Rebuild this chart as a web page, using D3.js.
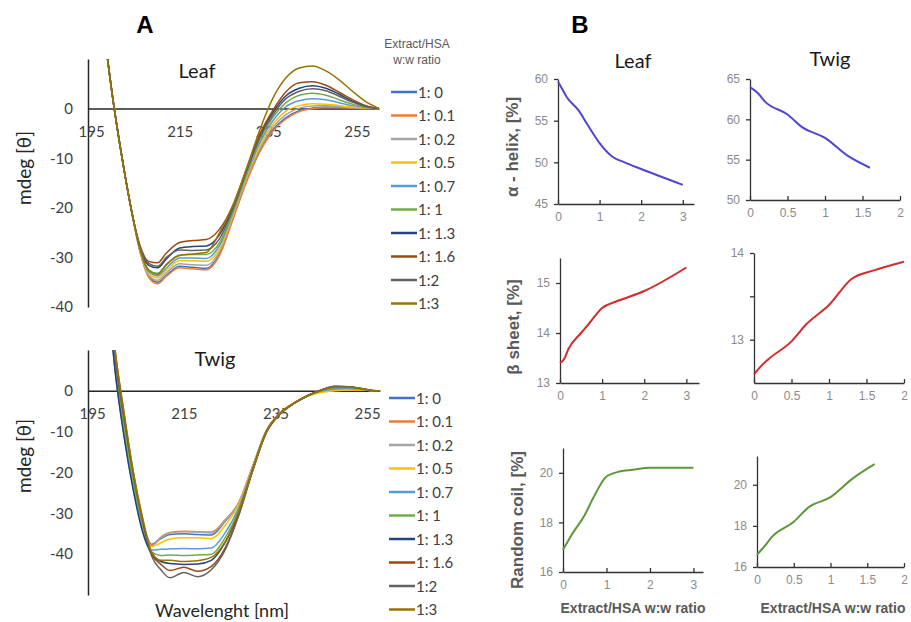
<!DOCTYPE html>
<html>
<head>
<meta charset="utf-8">
<script src="https://cdn.jsdelivr.net/npm/d3@7"></script>
<style>
  body { margin: 0; background: #fff; }
  svg { display: block; background: #fff; }
</style>
</head>
<body>
<svg id="fig" width="911" height="622"></svg>
<script>
// ---------- panel A: CD spectra ----------
var wavelengths = [198, 200, 202, 204, 206, 208, 210, 212, 215, 218, 221, 224, 227, 230, 233, 236, 239, 242, 245, 248, 251, 254, 257, 260];
var ratioLabels = ["1: 0", "1: 0.1", "1: 0.2", "1: 0.5", "1: 0.7", "1: 1", "1: 1.3", "1: 1.6", "1:2", "1:3"];
var ratioColors = ["#4472c4", "#ed7d31", "#a5a5a5", "#ffc000", "#5b9bd5", "#70ad47", "#264478", "#9e480e", "#636363", "#997300"];
var wlTicks = [195, 215, 235, 255];
var mdegTicks = [0, -10, -20, -30, -40];

var leaf_0  = [15, 1.4, -10, -20, -28.6, -33.8, -35, -33.6, -31.8, -32, -32.2, -29.3, -22.2, -14.8, -8.6, -4.3, -1.8, -0.4, 0.1, 0.3, 0.2, 0.1, 0, 0];
var leaf_01 = [15, 1.4, -10, -20, -28.7, -34, -35.3, -33.8, -32.1, -32.3, -32.5, -29.6, -22.4, -15, -8.9, -4.6, -2.1, -0.6, 0, 0.2, 0.2, 0.1, 0, 0];
var leaf_02 = [15, 1.4, -10, -20, -28.5, -33.6, -34.6, -33.1, -31.3, -31.5, -31.6, -28.8, -21.8, -14.4, -8.2, -3.8, -1.2, 0.1, 0.5, 0.6, 0.4, 0.2, 0.1, 0];
var leaf_05 = [15, 1.4, -10, -20, -28.4, -33.2, -34.1, -32.6, -30.6, -30.7, -30.8, -28.2, -21.4, -14, -7.6, -3.2, -0.5, 0.6, 1, 0.9, 0.6, 0.3, 0.1, 0];
var leaf_07 = [15, 1.4, -10, -20, -28.3, -32.9, -33.7, -32.1, -30.1, -30.1, -30.2, -27.6, -21, -13.6, -7, -2.5, 0.4, 1.6, 2, 1.8, 1.2, 0.6, 0.2, 0];
var leaf_1  = [15, 1.4, -10, -20, -28.1, -32.5, -33.2, -31.5, -29.5, -29.4, -29.4, -27, -20.7, -13.2, -6.4, -1.8, 1.2, 2.7, 3.1, 2.7, 1.8, 0.9, 0.3, 0];
var leaf_13 = [15, 1.4, -10, -20, -27.8, -31.6, -32.1, -30.3, -28.1, -27.8, -27.7, -25.4, -20, -12.6, -5.6, -0.8, 2.6, 4.1, 4.6, 4.1, 2.9, 1.5, 0.5, 0];
var leaf_16 = [15, 1.4, -10, -20, -27.5, -30.8, -31.1, -29.1, -27, -26.6, -26.4, -24.3, -19.6, -12.4, -5.3, -0.4, 3.4, 5.2, 5.4, 4.7, 3.3, 1.8, 0.6, 0];
var leaf_2  = [15, 1.4, -10, -20, -27.7, -31.2, -31.8, -30, -28.5, -28.6, -28.5, -26.2, -20.3, -12.9, -6, -1.3, 2, 3.5, 4, 3.6, 2.5, 1.3, 0.4, 0];
var leaf_3  = [15, 1.4, -10, -20, -28.2, -32.6, -33.4, -31.4, -29.6, -29.3, -29, -25, -19.5, -12.3, -4.5, 2, 6.2, 8.2, 8.6, 7.6, 5.8, 3.5, 1.4, 0];

var twig_0  = [30, 7, -8, -21.5, -32, -37.6, -36.2, -35.2, -35, -35.2, -35.3, -32, -27.5, -18.6, -9.8, -5.4, -3, -1.2, 0, 0.8, 0.8, 0.4, 0, 0];
var twig_01 = [30, 7, -8.5, -22, -32.3, -37.8, -35.8, -34.7, -34.4, -34.5, -34.6, -31.6, -27.3, -18.5, -9.7, -5.4, -3, -1.2, 0, 0.7, 0.7, 0.4, 0, 0];
var twig_02 = [30, 6.5, -9, -22.2, -32.5, -38, -36, -34.8, -34.5, -34.6, -34.8, -31.8, -27.4, -18.6, -9.8, -5.5, -3.1, -1.3, -0.1, 0.4, 0.5, 0.3, 0, 0];
var twig_05 = [30, 6.5, -9, -22, -32.5, -38.2, -37.2, -36.3, -36, -36, -36.2, -33, -27.8, -18.8, -10, -5.5, -3.1, -1.3, -0.4, 0, 0.2, 0.2, 0, 0];
var twig_07 = [30, 5, -11, -24, -34, -39, -38.8, -38.7, -38.6, -38.7, -38.5, -34.8, -28.5, -19, -10, -5.6, -3.1, -1.2, 0, 0.5, 0.6, 0.3, 0, 0];
var twig_1  = [30, 6, -10, -23, -33.5, -39.5, -40.3, -40.2, -40.3, -40.2, -40, -36, -29.2, -19.2, -10.1, -5.6, -3.1, -1.2, 0, 0.8, 0.8, 0.4, 0, 0];
var twig_13 = [30, 5, -11.5, -24.5, -34.5, -40, -41.8, -42.3, -42.5, -42.4, -41.5, -37.2, -29.8, -19.4, -10.1, -5.6, -3.1, -1.2, 0.2, 1, 1, 0.5, 0, 0];
var twig_16 = [32, 10, -6, -20, -31.5, -40, -42.5, -44, -43.2, -44.2, -43, -38.5, -30.3, -19.6, -10.2, -5.7, -3.1, -1.2, 0.2, 1.1, 1, 0.5, 0, 0];
var twig_2  = [31, 8, -7.5, -21, -32, -40.5, -43.8, -45.8, -44.5, -45.5, -43.8, -39, -30.5, -19.7, -10.2, -5.7, -3.1, -1.2, 0.2, 1.1, 1, 0.5, 0, 0];
var twig_3  = [32, 10, -5.5, -20, -31, -39.5, -41.5, -41.5, -41.8, -41.6, -40.8, -37, -29.5, -19.4, -10.1, -5.6, -3.1, -1.2, 0.1, 0.9, 0.9, 0.5, 0, 0];

// ---------- panel B: secondary structure ----------
var leafRatios = [0, 0.1, 0.2, 0.5, 0.7, 1, 1.3, 1.6, 2, 3];
var leafHelix  = [59.7, 58.8, 57.9, 56.2, 54.6, 52.3, 50.7, 50.0, 49.2, 47.3];
var leafSheet  = [13.4, 13.48, 13.68, 14.0, 14.2, 14.5, 14.62, 14.71, 14.84, 15.31];
var leafCoil   = [16.9, 17.2, 17.5, 18.3, 19.0, 19.85, 20.05, 20.12, 20.2, 20.2];

var twigRatios = [0, 0.1, 0.2, 0.5, 0.7, 1, 1.3, 1.6];
var twigHelix  = [64.0, 63.3, 62.2, 60.6, 59.0, 57.7, 55.5, 54.0];
var twigCoil   = [16.6, 17.0, 17.45, 18.2, 18.9, 19.4, 20.3, 21.0];
var twigSheetRatios = [0, 0.1, 0.2, 0.5, 0.7, 1, 1.3, 1.6, 2];
var twigSheet  = [12.6, 12.7, 12.78, 12.98, 13.18, 13.4, 13.7, 13.8, 13.9];

var svg = d3.select("#fig");
var defs = svg.append("defs");
var sansA = "Lato, 'Open Sans', sans-serif";
var sansB = "'Liberation Sans', Arial, sans-serif";

function drawSpectra(o) {
    var x = d3.scaleLinear().domain(o.xDomain).range(o.xRange);
    var y = d3.scaleLinear().domain(o.yDomain).range(o.yRange);
    var g = svg.append("g");

    // y axis (vertical line + labels)
    g.append("g")
        .attr("transform", "translate(" + o.xRange[0] + ",0)")
        .call(d3.axisLeft(y).tickValues(mdegTicks).tickSize(0).tickPadding(15)
              .tickFormat(function(d) { return String(d); }))
        .call(function(s) {
            s.select(".domain").attr("stroke", "#262626").attr("stroke-width", 1.5);
            s.selectAll("text").attr("font-family", sansA).attr("font-size", 15).attr("fill", "#404040");
        });

    // x axis drawn on the zero line
    g.append("g")
        .attr("transform", "translate(0," + y(0) + ")")
        .call(d3.axisBottom(x).tickValues(wlTicks).tickSize(0).tickPadding(o.xPad))
        .call(function(s) {
            s.select(".domain").attr("stroke", "#262626").attr("stroke-width", 1.5);
            s.selectAll("text").attr("font-family", sansA).attr("font-size", 15).attr("fill", "#404040");
        });

    defs.append("clipPath").attr("id", o.id)
        .append("rect")
        .attr("x", o.xRange[0]).attr("y", o.yRange[1])
        .attr("width", o.xRange[1] - o.xRange[0])
        .attr("height", o.yRange[0] - o.yRange[1]);

    var line = d3.line()
        .x(function(d, i) { return x(wavelengths[i]); })
        .y(function(d) { return y(d); })
        .curve(d3.curveMonotoneX);

    g.append("g").attr("clip-path", "url(#" + o.id + ")")
        .selectAll("path").data(o.series).join("path")
        .attr("d", line)
        .attr("fill", "none")
        .attr("stroke", function(d, i) { return ratioColors[i]; })
        .attr("stroke-width", 1.5);

    g.append("text").attr("x", o.titleX).attr("y", o.titleY)
        .attr("text-anchor", "middle").attr("font-family", sansA)
        .attr("font-size", 20).attr("fill", "#1a1a1a").text(o.title);

    g.append("text")
        .attr("transform", "translate(31," + o.labelY + ") rotate(-90)")
        .attr("text-anchor", "middle").attr("font-family", sansA)
        .attr("font-size", 19).attr("fill", "#262626").text("mdeg [θ]");

    // legend
    var leg = g.append("g").selectAll("g").data(ratioLabels).join("g")
        .attr("transform", function(d, i) { return "translate(" + o.legX + "," + (o.legY + i * 23.5) + ")"; });
    leg.append("line").attr("x1", 0).attr("x2", 26)
        .attr("stroke", function(d, i) { return ratioColors[i]; })
        .attr("stroke-width", 2.5);
    leg.append("text").attr("x", 27).attr("y", 5.5)
        .attr("font-family", sansA).attr("font-size", 15).attr("fill", "#404040")
        .text(function(d) { return d; });
}

svg.append("text").attr("x", 145).attr("y", 33).attr("text-anchor", "middle")
    .attr("font-family", sansB).attr("font-weight", "bold").attr("font-size", 24).text("A");
svg.append("text").attr("x", 580).attr("y", 33).attr("text-anchor", "middle")
    .attr("font-family", sansB).attr("font-weight", "bold").attr("font-size", 24).text("B");

svg.append("text").attr("x", 417).attr("y", 47.5).attr("text-anchor", "middle")
    .attr("font-family", sansB).attr("font-size", 12).attr("fill", "#595959").text("Extract/HSA");
svg.append("text").attr("x", 417).attr("y", 64).attr("text-anchor", "middle")
    .attr("font-family", sansB).attr("font-size", 12).attr("fill", "#595959").text("w:w ratio");

drawSpectra({
    id: "clipLeaf", title: "Leaf", titleX: 197, titleY: 78, labelY: 168,
    xDomain: [194.3, 260], xRange: [88, 379],
    yDomain: [-40, 10], yRange: [307, 59], xPad: 18,
    series: [leaf_0, leaf_01, leaf_02, leaf_05, leaf_07, leaf_1, leaf_13, leaf_16, leaf_2, leaf_3],
    legX: 391, legY: 92
});
drawSpectra({
    id: "clipTwig", title: "Twig", titleX: 215, titleY: 366, labelY: 456,
    xDomain: [194.1, 257.8], xRange: [88, 380],
    yDomain: [-50, 10], yRange: [595, 350], xPad: 18,
    series: [twig_0, twig_01, twig_02, twig_05, twig_07, twig_1, twig_13, twig_16, twig_2, twig_3],
    legX: 389, legY: 398
});

svg.append("text").attr("x", 222).attr("y", 617).attr("text-anchor", "middle")
    .attr("font-family", sansA).attr("font-size", 18).attr("fill", "#262626").text("Wavelenght [nm]");

// ---------- panel B ----------
function drawStructure(o) {
    var x = d3.scaleLinear().domain(o.xDomain).range(o.xRange);
    var y = d3.scaleLinear().domain(o.yDomain).range(o.yRange);
    var g = svg.append("g");

    g.append("g")
        .attr("transform", "translate(" + o.xRange[0] + ",0)")
        .call(d3.axisLeft(y).tickValues(o.yTicks).tickSizeInner(4).tickSizeOuter(0).tickPadding(6)
              .tickFormat(function(d) { return o.yLabels.indexOf(d) >= 0 ? String(d) : ""; }))
        .call(styleAxis);

    g.append("g")
        .attr("transform", "translate(0," + o.yRange[0] + ")")
        .call(d3.axisBottom(x).tickValues(o.xTicks).tickSizeInner(-4).tickSizeOuter(0).tickPadding(8)
              .tickFormat(function(d) { return String(d); }))
        .call(styleAxis);

    var line = d3.line()
        .x(function(d, i) { return x(o.xs[i]); })
        .y(function(d) { return y(d); })
        .curve(d3.curveMonotoneX);

    g.append("path").datum(o.ys)
        .attr("d", line).attr("fill", "none")
        .attr("stroke", o.color).attr("stroke-width", 2);
}

function styleAxis(s) {
    s.select(".domain").attr("stroke", "#333").attr("stroke-width", 1.3);
    s.selectAll(".tick line").attr("stroke", "#333").attr("stroke-width", 1.3);
    s.selectAll("text").attr("font-family", sansB).attr("font-size", 12).attr("fill", "#8a8a8a");
}

var helixColor = "#5046d4", sheetColor = "#d42b2b", coilColor = "#5e963c";

drawStructure({ xs: leafRatios, ys: leafHelix, color: helixColor,
    xDomain: [0, 3.27], xRange: [558, 694], yDomain: [45, 60], yRange: [204, 79],
    xTicks: [0, 1, 2, 3], yTicks: [45, 50, 55, 60], yLabels: [45, 50, 55, 60] });
drawStructure({ xs: twigRatios, ys: twigHelix, color: helixColor,
    xDomain: [0, 2], xRange: [750, 900], yDomain: [50, 65], yRange: [200, 79],
    xTicks: [0, 0.5, 1, 1.5, 2], yTicks: [50, 55, 60, 65], yLabels: [50, 55, 60, 65] });
drawStructure({ xs: leafRatios, ys: leafSheet, color: sheetColor,
    xDomain: [0, 3.3], xRange: [560, 699], yDomain: [13, 15.5], yRange: [383, 258],
    xTicks: [0, 1, 2, 3], yTicks: [13, 14, 15], yLabels: [13, 14, 15] });
drawStructure({ xs: twigSheetRatios, ys: twigSheet, color: sheetColor,
    xDomain: [0, 2], xRange: [754, 904], yDomain: [12.5, 14], yRange: [383, 253],
    xTicks: [0, 0.5, 1, 1.5, 2], yTicks: [13, 13.5, 14], yLabels: [13, 14] });
drawStructure({ xs: leafRatios, ys: leafCoil, color: coilColor,
    xDomain: [0, 3.22], xRange: [563, 703], yDomain: [16, 21], yRange: [572, 448],
    xTicks: [0, 1, 2, 3], yTicks: [16, 18, 20], yLabels: [16, 18, 20] });
drawStructure({ xs: twigRatios, ys: twigCoil, color: coilColor,
    xDomain: [0, 2], xRange: [757, 904], yDomain: [16, 21.4], yRange: [567, 456],
    xTicks: [0, 0.5, 1, 1.5, 2], yTicks: [16, 18, 20], yLabels: [16, 18, 20] });

// panel B titles and axis names
[["Leaf", 633, 68], ["Twig", 830, 66]].forEach(function(t) {
    svg.append("text").attr("x", t[1]).attr("y", t[2]).attr("text-anchor", "middle")
        .attr("font-family", sansA).attr("font-size", 20).attr("fill", "#1a1a1a").text(t[0]);
});
[["α - helix, [%]", 518, 147], ["β sheet, [%]", 519, 327], ["Random coil, [%]", 523, 520]].forEach(function(t) {
    svg.append("text").attr("transform", "translate(" + t[1] + "," + t[2] + ") rotate(-90)")
        .attr("text-anchor", "middle").attr("font-family", sansB).attr("font-weight", "bold")
        .attr("font-size", 17).attr("fill", "#595959").text(t[0]);
});
[633, 833].forEach(function(cx) {
    svg.append("text").attr("x", cx).attr("y", 613).attr("text-anchor", "middle")
        .attr("font-family", sansB).attr("font-weight", "bold").attr("font-size", 14)
        .attr("fill", "#595959").text("Extract/HSA w:w ratio");
});
</script>
</body>
</html>
